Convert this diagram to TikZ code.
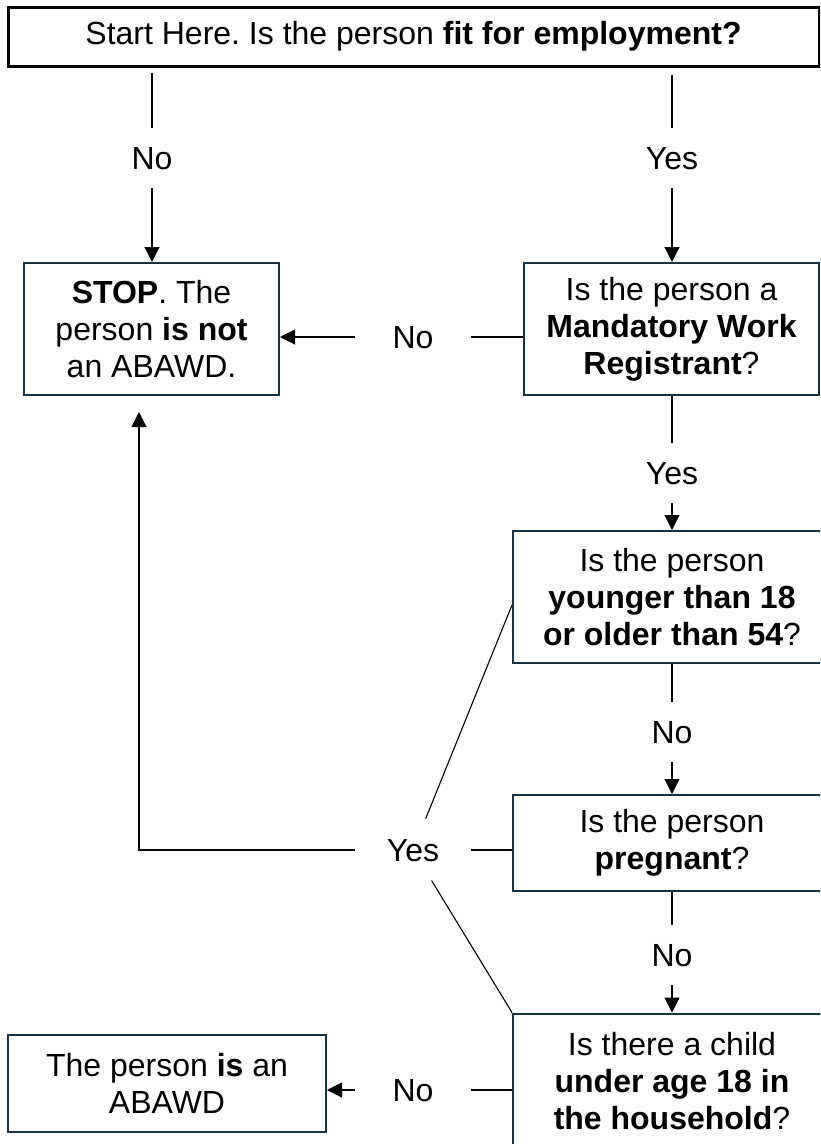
\documentclass[tikz,border=0pt]{standalone}
\usepackage{fontspec}
\setmainfont{Liberation Sans}
\usetikzlibrary{arrows.meta,shapes.geometric}
\definecolor{boxcol}{HTML}{1A3344}
\frenchspacing
\begin{document}
\begin{tikzpicture}[x=1pt,y=-1pt,
  txt/.style={font=\fontsize{32}{37}\selectfont, align=center},
  box/.style={txt, draw=boxcol, line width=2pt, inner sep=0pt, rectangle},
  vlbl/.style={txt, inner sep=0pt, minimum height=60pt, text height=23pt, text depth=0pt},
  hlbl/.style={txt, inner sep=0pt, minimum width=116pt, text height=23pt, text depth=0pt},
  elbl/.style={txt, ellipse, inner sep=0pt, minimum width=116pt, minimum height=64pt, text height=23pt, text depth=0pt},
  conn/.style={line width=1.1pt, black},
  arr/.style={conn, -{Triangle[width=15pt,length=15pt]}}
]
\useasboundingbox (0,0) rectangle (820,1144);
\clip (0,0) rectangle (820,1144);
\fill[white] (0,0) rectangle (820,1144);

% boxes
\node[box, draw=black, line width=3pt, minimum width=811pt, minimum height=59pt] (top) at (413.5,36.5)
  {Start Here. Is the person \textbf{fit for employment?}};
\node[box, minimum width=255pt, minimum height=132pt] (stop) at (151.5,329)
  {\textbf{STOP}. The\\person \textbf{is not}\\an ABAWD.};
\node[box, minimum width=295pt, minimum height=132pt] (mwr) at (671.5,329)
  {Is the person a\\\textbf{Mandatory Work}\\\textbf{Registrant}?};
\node[box, minimum width=318pt, minimum height=132pt] (age) at (672,597)
  {Is the person\\\textbf{younger than 18}\\\textbf{or older than 54}?};
\node[box, minimum width=318pt, minimum height=96pt] (preg) at (672,843)
  {Is the person\\\textbf{pregnant}?};
\node[box, minimum width=318pt, minimum height=135pt] (child) at (672,1081)
  {Is there a child\\\textbf{under age 18 in}\\\textbf{the household}?};
\node[box, minimum width=318pt, minimum height=97pt] (abawd) at (167,1083.5)
  {The person \textbf{is} an\\ABAWD};

% labels
\node[vlbl] (lNo1) at (152,158) {No};
\node[vlbl] (lYes1) at (672,158) {Yes};
\node[hlbl] (lNo2) at (413,337) {No};
\node[vlbl] (lYes2) at (672,473) {Yes};
\node[vlbl] (lNo3) at (672,732) {No};
\node[vlbl] (lNo4) at (672,955) {No};
\node[elbl] (lYes3) at (413,850) {Yes};
\node[hlbl] (lNo5) at (413,1090) {No};
\coordinate (bend) at (139,850);

% connectors
\draw[conn, shorten <=5pt] (top.south -| lNo1) -- (lNo1);
\draw[arr] (lNo1) -- (lNo1 |- stop.north);
\draw[conn, shorten <=7pt] (top.south -| lYes1) -- (lYes1);
\draw[arr] (lYes1) -- (lYes1 |- mwr.north);

\draw[conn] (mwr.west |- lNo2) -- (lNo2);
\draw[arr] (lNo2) -- (lNo2 -| stop.east);

\draw[conn] (mwr.south -| lYes2) -- (lYes2);
\draw[arr] (lYes2) -- (lYes2 |- age.north);
\draw[conn] (age.south -| lNo3) -- (lNo3);
\draw[arr] (lNo3) -- (lNo3 |- preg.north);
\draw[conn] (preg.south -| lNo4) -- (lNo4);
\draw[arr] (lNo4) -- (lNo4 |- child.north);

\draw[conn] ([yshift=-8pt]age.west) -- (lYes3);
\draw[conn] (preg.west |- lYes3) -- (lYes3);
\draw[conn] (child.north west) -- (lYes3);
\draw[arr, shorten >=16pt] (lYes3) -- (bend) -- (bend |- stop.south);

\draw[conn] (child.west |- lNo5) -- (lNo5);
\draw[arr] (lNo5) -- (lNo5 -| abawd.east);
\end{tikzpicture}
\end{document}
